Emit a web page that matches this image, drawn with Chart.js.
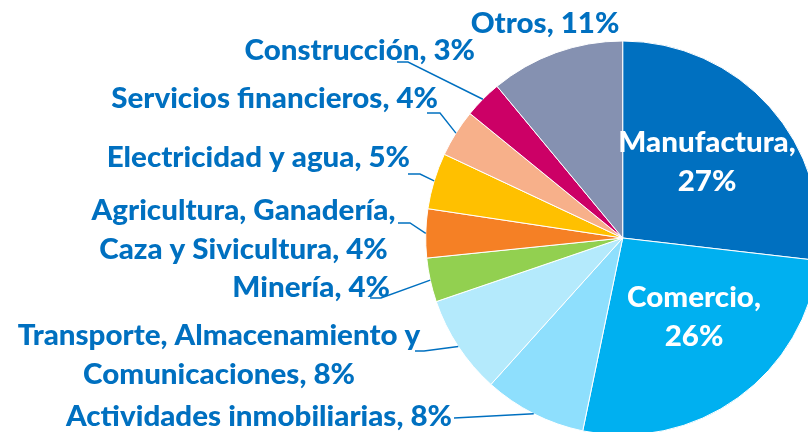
<!DOCTYPE html>
<html><head><meta charset="utf-8">
<script src="https://cdn.jsdelivr.net/npm/chart.js@4"></script>
<style>
html,body{margin:0;padding:0;background:#fff;overflow:hidden;width:808px;height:432px;}
#wrap{position:absolute;left:0;top:0;width:1000px;height:500px;}
</style></head><body>
<div id="wrap"><canvas id="c" width="1000" height="500"></canvas></div>
<script>
// ---- data ----
const categories = ['Manufactura', 'Comercio', 'Actividades inmobiliarias',
  'Transporte, Almacenamiento y Comunicaciones', 'Minería',
  'Agricultura, Ganadería, Caza y Sivicultura', 'Electricidad y agua',
  'Servicios financieros', 'Construcción', 'Otros'];
const shares = [26.8, 26.4, 8.4, 8.1, 3.6, 4.0, 4.6, 3.9, 3.1, 11.0];

// ---- styles ----
const sliceColors = ['#0070C0', '#00B0F0', '#8EDFFD', '#B4EAFC', '#92D050',
  '#F58025', '#FFC000', '#F7B08A', '#CC0066', '#8591B1'];
const textBlue = '#0070C0';
const FONT = '900 28px Lato, "Open Sans", sans-serif';
const TEXT_STRETCH = 1.055;
const LINE_H = 38.5;

// label layout: alignment, anchor x, first baseline y, words on first line, colour, leader points
const labelLayout = [
  {align: 'center', x: 707, y: 152, firstWords: 1, color: '#fff'},
  {align: 'center', x: 694, y: 307, firstWords: 1, color: '#fff'},
  {align: 'right', x: 452, y: 426, color: textBlue, leader: [[454, 418]]},
  {align: 'center', x: 219, y: 345, firstWords: 3, color: textBlue, leader: [[415, 351], [424, 351]]},
  {align: 'right', x: 390, y: 297, color: textBlue, leader: [[370, 298], [381, 298]]},
  {align: 'center', x: 243.5, y: 220, firstWords: 2, color: textBlue, leader: [[398, 223], [410, 223]]},
  {align: 'right', x: 410, y: 167, color: textBlue, leader: [[408, 174], [420, 174]]},
  {align: 'right', x: 438, y: 108, color: textBlue, leader: [[427, 113], [440, 113]]},
  {align: 'right', x: 475, y: 60, color: textBlue, leader: [[397, 62], [408, 62]]},
  {align: 'center', x: 545, y: 33, color: textBlue}
];

const labelPlugin = {
  id: 'sliceLabels',
  afterDatasetsDraw(chart) {
    const ctx = chart.ctx;
    const meta = chart.getDatasetMeta(0);
    ctx.save();
    meta.data.forEach((arc, i) => {
      const lay = labelLayout[i];
      const pct = Math.round(shares[i]);
      const full = categories[i] + ', ' + pct + '%';
      let lines = [full];
      if (lay.firstWords) {
        const w = full.split(' ');
        lines = [w.slice(0, lay.firstWords).join(' '), w.slice(lay.firstWords).join(' ')];
      }
      if (lay.leader) {
        const p = arc.getProps(['x', 'y', 'startAngle', 'endAngle', 'outerRadius'], true);
        const mid = (p.startAngle + p.endAngle) / 2;
        const ex = p.x + Math.cos(mid) * p.outerRadius;
        const ey = p.y + Math.sin(mid) * p.outerRadius;
        ctx.beginPath();
        ctx.strokeStyle = textBlue;
        ctx.lineWidth = 1.4;
        lay.leader.forEach((pt, k) => k ? ctx.lineTo(pt[0], pt[1]) : ctx.moveTo(pt[0], pt[1]));
        ctx.lineTo(ex, ey);
        ctx.stroke();
      }
      ctx.font = FONT;
      ctx.fillStyle = lay.color;
      ctx.textAlign = lay.align;
      ctx.textBaseline = 'alphabetic';
      lines.forEach((ln, k) => {
        ctx.save();
        ctx.translate(lay.x, lay.y + k * LINE_H);
        ctx.scale(TEXT_STRETCH, 1);
        ctx.fillText(ln, 0, 0);
        ctx.restore();
      });
    });
    ctx.restore();
  }
};

new Chart(document.getElementById('c'), {
  type: 'pie',
  data: {
    labels: categories,
    datasets: [{
      data: shares,
      backgroundColor: sliceColors,
      borderColor: '#ffffff',
      borderWidth: 1,
      hoverOffset: 0,
      radius: 197
    }]
  },
  options: {
    responsive: false,
    animation: false,
    layout: {padding: {left: 425.7, right: 180.3, top: 41, bottom: 65}},
    plugins: {legend: {display: false}, tooltip: {enabled: false}}
  },
  plugins: [labelPlugin]
});
</script>
</body></html>
